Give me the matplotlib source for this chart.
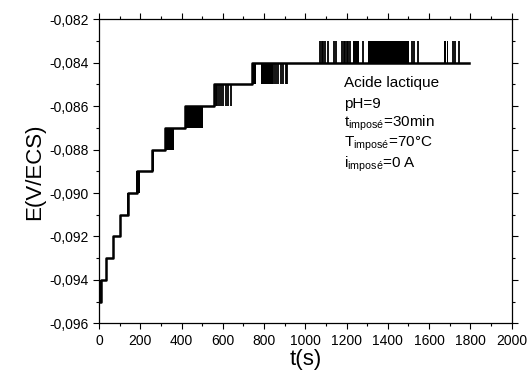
import numpy as np
import matplotlib
matplotlib.use("Agg")
import matplotlib.pyplot as plt
from matplotlib.ticker import MultipleLocator, FuncFormatter

# -------------------- DATA --------------------
# main staircase: time where each level starts, and the level (V/ECS)
step_t = [0, 10, 36, 68, 101, 139, 182, 255, 320, 415, 558, 744]
step_E = [-0.095, -0.094, -0.093, -0.092, -0.091, -0.090, -0.089,
          -0.088, -0.087, -0.086, -0.085, -0.084]
t_end = 1795

# dense flicker blocks between a level and the next one up: (start, end, lower level)
block_t0 = [0, 135, 181, 255, 320, 418, 744, 787, 1230, 1302, 1672, 1689]
block_t1 = [10, 143, 201, 265, 362, 503, 760, 842, 1262, 1502, 1680, 1692]
block_lo = [-0.095, -0.091, -0.090, -0.089, -0.088, -0.087,
            -0.085, -0.085, -0.084, -0.084, -0.084, -0.084]

# single switching lines: time and lower level of the jump
spike_t = [566, 572, 580, 590, 602, 615, 626, 638,
           850, 858, 866, 880, 893, 905, 913,
           1073, 1080, 1086, 1094, 1112, 1138, 1149, 1177, 1186, 1194,
           1200, 1209, 1218, 1282, 1516, 1529, 1545, 1716, 1727, 1745]
spike_lo = [-0.086] * 8 + [-0.085] * 7 + [-0.084] * 20

x_ticks = np.arange(0, 2001, 200)
y_ticks = np.arange(-0.096, -0.0819, 0.002)

info_lines = [r"Acide lactique", r"pH=9", r"t$_{imposé}$=30min",
              r"T$_{imposé}$=70°C", r"i$_{imposé}$=0 A"]
# --------------------------------------------------------------------

plt.rcParams["font.family"] = ["Liberation Sans", "DejaVu Sans"]
plt.rcParams["mathtext.fontset"] = "custom"
plt.rcParams["mathtext.rm"] = "Liberation Sans"
plt.rcParams["mathtext.it"] = "Liberation Sans"
plt.rcParams["mathtext.default"] = "regular"

fig = plt.figure(figsize=(5.28, 3.83), dpi=100)
ax = fig.add_axes([0.1875, 0.156, 0.7815, 0.7935])

ax.step(step_t + [t_end], step_E + [step_E[-1]], where="post",
        color="black", lw=1.8)
for t0, t1, lo in zip(block_t0, block_t1, block_lo):
    ax.fill_between([t0, t1], lo, lo + 0.001, color="black", lw=0)
ax.vlines(spike_t, spike_lo, np.array(spike_lo) + 0.001, color="black", lw=1.3)

ax.set_xlim(0, 2000)
ax.set_ylim(-0.096, -0.082)
ax.set_xticks(x_ticks)
ax.set_yticks(y_ticks)
ax.xaxis.set_minor_locator(MultipleLocator(100))
ax.yaxis.set_minor_locator(MultipleLocator(0.001))
ax.yaxis.set_major_formatter(FuncFormatter(lambda v, p: f"{v:.3f}".replace(".", ",")))
ax.tick_params(which="both", direction="out", top=True, right=True,
               labelsize=10, width=0.8)
ax.tick_params(which="major", length=4)
ax.tick_params(which="minor", length=2.5)
for s in ax.spines.values():
    s.set_linewidth(0.9)

ax.set_xlabel("t(s)", fontsize=16, labelpad=1)
ax.set_ylabel("E(V/ECS)", fontsize=16, labelpad=3)

for i, line in enumerate(info_lines):
    ax.text(1188, -0.08495 - i * 0.00093, line, fontsize=11, va="center", ha="left")

fig.savefig("out.png", dpi=100)
